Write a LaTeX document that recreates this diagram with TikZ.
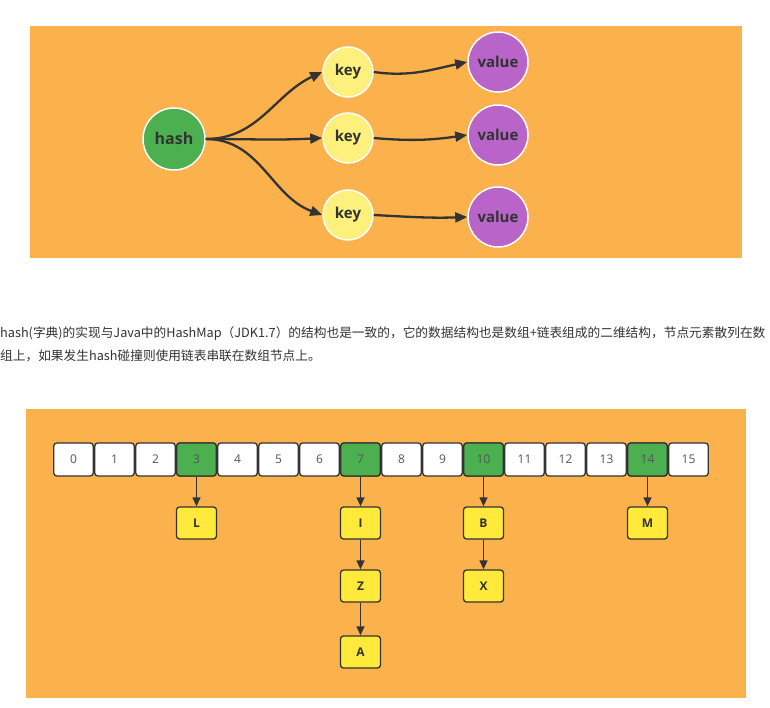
\documentclass[tikz,border=0pt]{standalone}
\usepackage{fontspec}
\setmainfont{Open Sans}
\newfontfamily\cjk{Noto Sans CJK SC}
\usetikzlibrary{arrows.meta}
\definecolor{bgor}{HTML}{FCB24C}
\definecolor{grn}{HTML}{4CAF50}
\definecolor{keyy}{HTML}{FDF07C}
\definecolor{purp}{HTML}{B864C8}
\definecolor{dk}{HTML}{333333}
\definecolor{boxy}{HTML}{FFE93B}
\definecolor{numg}{HTML}{555555}
\tikzset{
  circ/.style={circle,draw=white,line width=1.5pt,inner sep=0pt,text=dk,font=\bfseries\fontsize{15}{17}\selectfont},
  hashc/.style={circ,fill=grn,minimum size=62pt,font=\bfseries\fontsize{16}{18}\selectfont},
  keyc/.style={circ,fill=keyy,minimum size=50pt},
  valc/.style={circ,fill=purp,minimum size=60pt},
  bigarr/.style={draw=dk,line width=2.3pt,-{Triangle[length=12pt,width=10pt]}},
  cell/.style={draw=dk,line width=1.3pt,rounded corners=3pt,minimum width=39.5pt,minimum height=33pt,inner sep=0pt,fill=white,text=numg,font=\fontsize{12}{14}\selectfont},
  gcell/.style={cell,fill=grn},
  lbox/.style={draw=dk,line width=1.3pt,rounded corners=3pt,minimum width=40pt,minimum height=32pt,inner sep=0pt,fill=boxy,text=dk,font=\bfseries\fontsize{12}{14}\selectfont},
  smarr/.style={draw=dk,line width=1.3pt,-{Triangle[length=9pt,width=8pt]}},
  para/.style={anchor=west,inner sep=0pt,text=dk,font=\cjk\fontsize{12.7}{15}\selectfont}
}
\begin{document}
\begin{tikzpicture}[x=1pt,y=-1pt]
\useasboundingbox[fill=white] (0,0) rectangle (770,708);
% top panel
\fill[bgor] (30,26) rectangle (742,258);
\node[hashc] (h) at (174,139) {hash};
\node[keyc] (k1) at (348,72) {key};
\node[keyc] (k2) at (348,138) {key};
\node[keyc] (k3) at (348,215) {key};
\node[valc] (v1) at (498,62) {value};
\node[valc] (v2) at (498,135) {value};
\node[valc] (v3) at (498,217) {value};
\draw[bigarr] (h.east) to[out=0,in=205] (k1.west);
\draw[bigarr] (h.east) to[out=0,in=183] (k2.west);
\draw[bigarr] (h.east) to[out=0,in=160] (k3.west);
\draw[bigarr] (k1.east) to[out=-8,in=192] (v1.west);
\draw[bigarr] (k2.east) to[out=-5,in=188] (v2.west);
\draw[bigarr] (k3.east) to[out=-3,in=182] (v3.west);
% paragraph
\node[para] (p1) at (0,334) {hash(字典)的实现与Java中的HashMap（JDK1.7）的结构也是一致的，它的数据结构也是数组+链表组成的二维结构，节点元素散列在数};
\node[para] (p2) at (0,356) {组上，如果发生hash碰撞则使用链表串联在数组节点上。};
% bottom panel
\fill[bgor] (26,409) rectangle (746,698);
\foreach \i in {0,...,15}{
  \pgfmathsetmacro{\cx}{73.5+41*\i}
  \node[cell] (c\i) at (\cx,459.5) {\i};
}
\foreach \i in {3,7,10,14}{
  \pgfmathsetmacro{\cx}{73.5+41*\i}
  \node[gcell] at (\cx,459.5) {\i};
}
\node[lbox] (L) at (c3 |- 0,523) {L};
\node[lbox] (I) at (c7 |- 0,523) {I};
\node[lbox] (Z) at (c7 |- 0,586) {Z};
\node[lbox] (A) at (c7 |- 0,652) {A};
\node[lbox] (B) at (c10 |- 0,523) {B};
\node[lbox] (X) at (c10 |- 0,586) {X};
\node[lbox] (M) at (c14 |- 0,523) {M};
\draw[smarr] (c3.south) -- (L.north);
\draw[smarr] (c7.south) -- (I.north);
\draw[smarr] (I.south) -- (Z.north);
\draw[smarr] (Z.south) -- (A.north);
\draw[smarr] (c10.south) -- (B.north);
\draw[smarr] (B.south) -- (X.north);
\draw[smarr] (c14.south) -- (M.north);
\end{tikzpicture}
\end{document}
